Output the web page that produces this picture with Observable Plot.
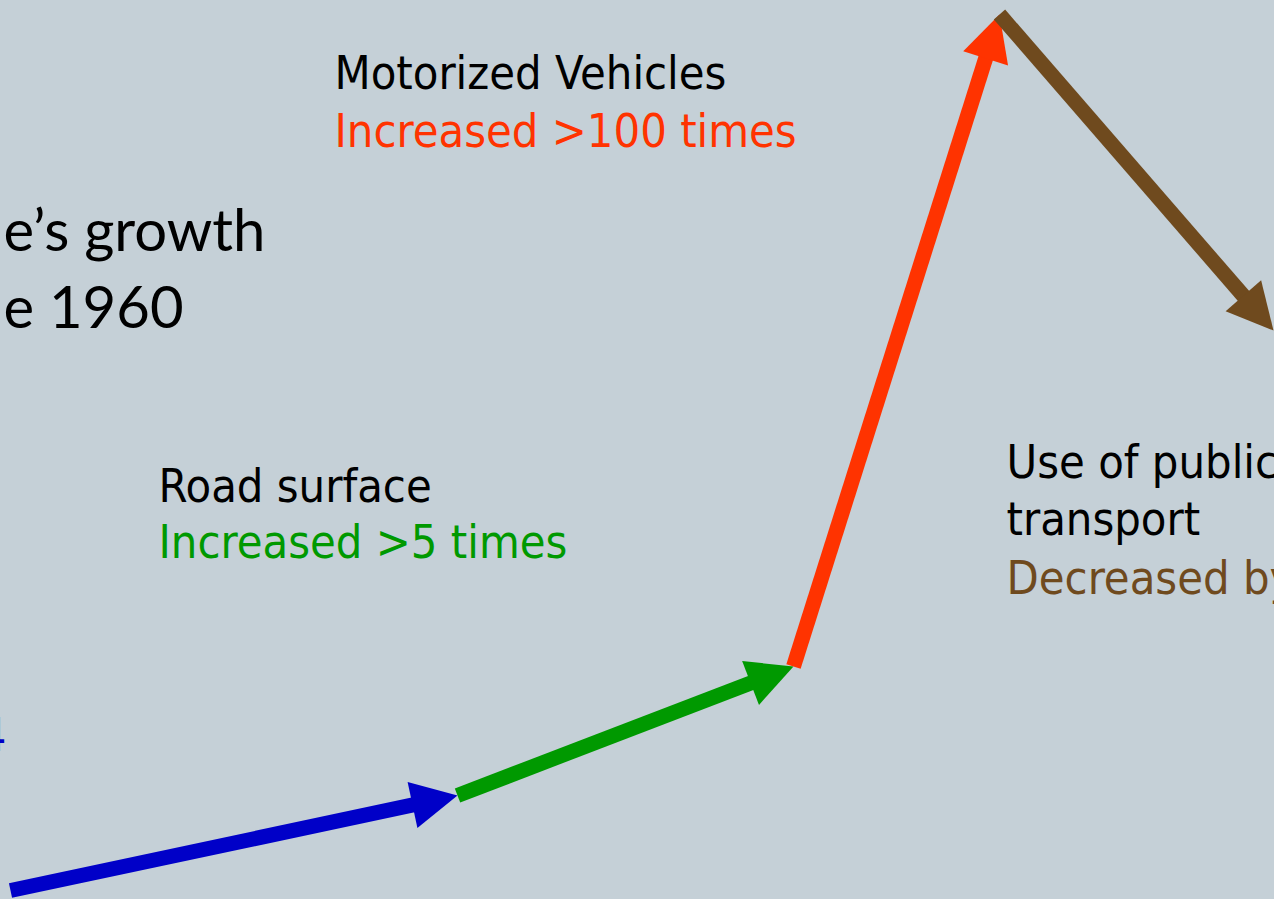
<!DOCTYPE html>
<html>
<head>
<meta charset="utf-8">
<script src="https://cdn.jsdelivr.net/npm/d3@7"></script>
<script src="https://cdn.jsdelivr.net/npm/@observablehq/plot@0.6"></script>
<style>
html, body { margin: 0; padding: 0; background: #C5D0D7; overflow: hidden; }
#chart svg { display: block; }
</style>
</head>
<body>
<div id="chart"></div>
<script>
// Chain of growth stages (diagram index space: x along, y up)
const stages = ["Population", "Road surface", "Motorized Vehicles", "Use of public transport"];
const chainX = [10, 457, 793, 999, 1273];
const chainY = [9, 104, 233, 885, 569];

// Text annotations
const labelText = [
  "e\u2019s growth", "e 1960",
  "Motorized Vehicles", "Increased >100 times",
  "Road surface", "Increased >5 times",
  "Use of public", "transport", "Decreased by 50%",
  "x4"
];
const labelX = [3, 3, 334, 334, 158, 158, 1006, 1006, 1006, 6];
const labelY = [649, 572, 811, 753, 398, 342, 422, 365, 306, 149];
const labelKind = ["head", "head", "black", "red", "black", "green", "black", "black", "brown", "blue"];

// Styles
const arrowColors = ["#0000C8", "#009900", "#FF3300", "#6F4A1E"];
const textColors = {head: "#000000", black: "#000000", red: "#FF3300", green: "#009900", brown: "#6F4A1E", blue: "#0000C8"};
const HEAD_L = 46, HEAD_W = 47;

const segments = stages.map((s, i) => {
  const x1 = chainX[i], y1 = chainY[i], x2 = chainX[i + 1], y2 = chainY[i + 1];
  const dx = x2 - x1, dy = y2 - y1, len = Math.hypot(dx, dy);
  const back = HEAD_L - 3;
  return {
    stage: s, color: arrowColors[i],
    x1, y1, x2, y2,
    sx: x2 - back * dx / len, sy: y2 - back * dy / len,
    angle: Math.atan2(dx, dy) * 180 / Math.PI
  };
});

const labels = labelText.map((t, i) => ({text: t, x: labelX[i], y: labelY[i], kind: labelKind[i]}));

const arrowHead = {
  draw(ctx) {
    ctx.moveTo(0, 0);
    ctx.lineTo(-HEAD_W / 2, HEAD_L);
    ctx.lineTo(HEAD_W / 2, HEAD_L);
    ctx.closePath();
  }
};

const sansFont = "'DejaVu Sans Condensed', 'DejaVu Sans', sans-serif";
const headFont = "Lato, 'Open Sans', sans-serif";

const marks = [];
segments.forEach(seg => {
  marks.push(Plot.link([seg], {x1: "x1", y1: "y1", x2: "sx", y2: "sy", stroke: seg.color, strokeWidth: 15}));
  marks.push(Plot.dot([seg], {x: "x2", y: "y2", symbol: arrowHead, r: 10, fill: seg.color, stroke: "none", rotate: "angle"}));
});

const groups = [
  {kinds: ["head"], font: headFont, size: 58, anchor: "start"},
  {kinds: ["black", "red", "green", "brown"], font: sansFont, size: 46.6, anchor: "start"},
  {kinds: ["blue"], font: sansFont, size: 46.6, anchor: "end"}
];
groups.forEach(g => {
  const data = labels.filter(d => g.kinds.includes(d.kind));
  marks.push(Plot.text(data, {
    x: "x", y: "y", text: "text",
    fill: d => textColors[d.kind],
    fontFamily: g.font, fontSize: g.size,
    textAnchor: g.anchor, lineAnchor: "bottom"
  }));
});

const chart = Plot.plot({
  width: 1274,
  height: 899,
  margin: 0,
  x: {domain: [0, 1274], range: [0, 1274], axis: null},
  y: {domain: [0, 899], range: [899, 0], axis: null},
  color: {type: "identity"},
  style: {background: "#C5D0D7", overflow: "hidden"},
  marks
});
document.getElementById("chart").appendChild(chart);
</script>
</body>
</html>
